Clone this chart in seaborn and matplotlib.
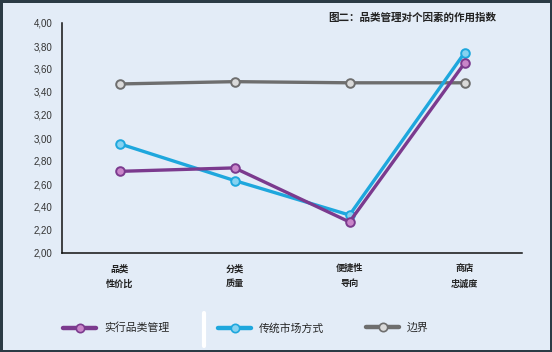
import matplotlib
matplotlib.use("Agg")
import matplotlib.pyplot as plt
from matplotlib.lines import Line2D
from matplotlib.ticker import FuncFormatter
import seaborn as sns
import pandas as pd

categories = ["品类\n性价比", "分类\n质量", "便捷性\n导向", "商店\n忠诚度"]
series_names = ["实行品类管理", "传统市场方式", "边界"]
managed = [2.71, 2.74, 2.27, 3.65]
traditional = [2.95, 2.63, 2.33, 3.74]
boundary = [3.47, 3.49, 3.48, 3.48]
title = "图二：品类管理对个因素的作用指数"

line_colors = {"实行品类管理": "#7b3a8e", "传统市场方式": "#1ea7dd", "边界": "#6e6e6e"}
face_colors = {"实行品类管理": "#c985c9", "传统市场方式": "#86d2f0", "边界": "#dadada"}
bg = "#e3ecf7"

rows = []
for name, vals in zip(series_names, [managed, traditional, boundary]):
    for i, v in enumerate(vals):
        rows.append({"series": name, "pos": i, "value": v})
df = pd.DataFrame(rows)

sns.set_theme(style="white")
plt.rcParams["font.family"] = ["Noto Sans CJK SC", "DejaVu Sans"]

fig = plt.figure(figsize=(5.52, 3.52), dpi=100)
fig.patch.set_facecolor(bg)
fig.patch.set_edgecolor("#2b3b45")
fig.patch.set_linewidth(2.5)
ax = fig.add_axes([62 / 552, 1 - 253 / 352, 460 / 552, 230 / 352])
ax.set_facecolor(bg)

# draw order: gray at back, purple on top
handles = {}
for name in ["边界", "传统市场方式", "实行品类管理"]:
    sub = df[df["series"] == name]
    sns.lineplot(data=sub, x="pos", y="value", color=line_colors[name], ax=ax,
                 linewidth=2.4, marker="o", markersize=6.2,
                 markerfacecolor=face_colors[name],
                 markeredgecolor=line_colors[name], markeredgewidth=1.4,
                 legend=False)
    handles[name] = Line2D([], [], color=line_colors[name], linewidth=3.2,
                           marker="o", markersize=6,
                           markerfacecolor=face_colors[name],
                           markeredgecolor=line_colors[name], markeredgewidth=1.2)

ax.set_xlim(-0.5, 3.5)
ax.set_ylim(2.0, 4.0)
ax.set_yticks([2.0 + 0.2 * k for k in range(11)])
ax.yaxis.set_major_formatter(FuncFormatter(lambda v, p: f"{v:.2f}".replace(".", ",")))
ax.set_xticks([0.5, 1.5, 2.5, 3.5])
ax.set_xticklabels([])
ax.set_xticks(range(len(categories)), minor=True)
ax.set_xticklabels(categories, minor=True, fontsize=6.6, fontweight="bold",
                   linespacing=1.85, color="#222222")
ax.tick_params(axis="x", which="major", direction="in", length=4, width=1, color="#111111")
ax.tick_params(axis="x", which="minor", length=0, pad=8)
ax.tick_params(axis="y", direction="out", length=4, width=1, color="#111111",
               labelsize=7, labelcolor="#333333", pad=3)
for lbl in ax.get_yticklabels():
    lbl.set_family(["Liberation Sans Narrow", "Liberation Sans", "DejaVu Sans"])
ax.set_xlabel("")
ax.set_ylabel("")
for side in ["top", "right"]:
    ax.spines[side].set_visible(False)
for side in ["left", "bottom"]:
    ax.spines[side].set_color("#111111")
    ax.spines[side].set_linewidth(1.1)

fig.text(496 / 552, 1 - 18 / 352, title, ha="right", va="center",
         fontsize=7.6, fontweight="bold", color="#222222")

# legend entries placed one by one, as in the reference
legend_x = {"实行品类管理": 63, "传统市场方式": 218, "边界": 366}
for name in series_names:
    leg = fig.legend([handles[name]], [name], loc="center left",
                     bbox_to_anchor=(legend_x[name] / 552, 1 - 328 / 352),
                     frameon=False, fontsize=7.8, handlelength=3.05,
                     handletextpad=0.75, borderpad=0, borderaxespad=0)
fig.add_artist(Line2D([204 / 552, 204 / 552], [1 - 313 / 352, 1 - 346 / 352],
                      transform=fig.transFigure, color="white", linewidth=3))

fig.savefig("out.png", dpi=100, facecolor=bg, edgecolor="#2b3b45")
